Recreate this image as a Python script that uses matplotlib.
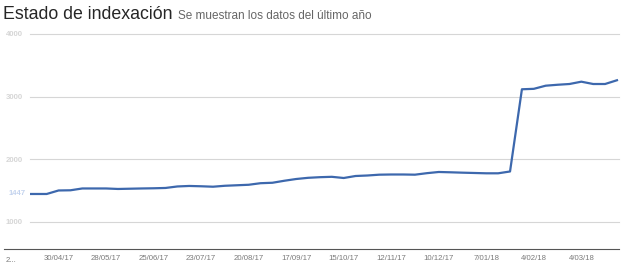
import matplotlib
matplotlib.use("Agg")
import matplotlib.pyplot as plt
import matplotlib.dates as mdates
import pandas as pd

plt.rcParams['font.family'] = ['Liberation Sans', 'DejaVu Sans']

# semanas (domingos), la primera queda recortada por el borde izquierdo
fechas = pd.date_range("2017-04-09", periods=51, freq="7D")
indexadas = [1447, 1447, 1447, 1503, 1506, 1535, 1535, 1535, 1527, 1531,
             1535, 1538, 1543, 1567, 1575, 1570, 1563, 1578, 1586, 1594,
             1619, 1626, 1658, 1686, 1705, 1715, 1721, 1702, 1734, 1742,
             1755, 1758, 1758, 1755, 1779, 1798, 1793, 1787, 1782, 1777,
             1777, 1806, 3118, 3125, 3175, 3190, 3202, 3239, 3202, 3202,
             3262]

ticks_x = ["2017-04-30", "2017-05-28", "2017-06-25", "2017-07-23",
           "2017-08-20", "2017-09-17", "2017-10-15", "2017-11-12",
           "2017-12-10", "2018-01-07", "2018-02-04", "2018-03-04"]
etiquetas_x = ["30/04/17", "28/05/17", "25/06/17", "23/07/17", "20/08/17",
               "17/09/17", "15/10/17", "12/11/17", "10/12/17", "7/01/18",
               "4/02/18", "4/03/18"]
primer_tick = "2017-04-02"
niveles_y = [1000, 2000, 3000, 4000]
etiquetas_y = ["1000", "2000", "3000", "4000"]

W, H = 625, 267
fig = plt.figure(figsize=(W / 100, H / 100), dpi=100)
ax = fig.add_axes([30 / W, 1 - 249 / H, (619 - 30) / W, (249 - 34) / H])

inicio = pd.Timestamp("2017-04-16") - pd.Timedelta(days=2.83)
fin = pd.Timestamp("2018-03-25") + pd.Timedelta(days=1.2)
ax.set_xlim(inicio, fin)
ax.set_ylim(569, 4000)

for v in niveles_y:
    ax.axhline(v, color="#d6d6d6", lw=0.8, zorder=1, clip_on=False)

ax.plot(fechas, indexadas, color="#3d68ad", lw=1.6, zorder=3,
        solid_joinstyle="round")

for s in ["top", "right", "left"]:
    ax.spines[s].set_visible(False)
ax.spines["bottom"].set_color("#555555")
ax.spines["bottom"].set_linewidth(0.8)
ax.spines["bottom"].set_bounds(mdates.date2num(pd.Timestamp("2017-03-29")),
                               mdates.date2num(fin))

ax.set_xticks(pd.to_datetime(ticks_x))
ax.set_xticklabels(etiquetas_x)
ax.tick_params(axis="x", length=0, pad=4, labelsize=5.6, labelcolor="#7a7a7a")
ax.text(pd.Timestamp(primer_tick), -0.035, "2...", transform=ax.get_xaxis_transform(),
        ha="center", va="top", fontsize=5.6, color="#7a7a7a", clip_on=False)

ax.set_yticks(niveles_y)
ax.set_yticklabels(etiquetas_y)
ax.tick_params(axis="y", length=0, pad=5, labelsize=5.6, labelcolor="#d6d6d6")
for lab in ax.get_yticklabels():
    lab.set_fontweight("bold")
ax.text(-0.008, indexadas[0], str(indexadas[0]), transform=ax.get_yaxis_transform(),
        ha="right", va="center", fontsize=5.6, fontweight="bold",
        color="#c3d3ee", clip_on=False)

fig.text(3 / W, 1 - 19 / H, "Estado de indexación", fontsize=12.8,
         color="#262626", va="baseline", ha="left")
fig.text(178 / W, 1 - 19 / H, "Se muestran los datos del último año", fontsize=8.5,
         color="#666666", va="baseline", ha="left")

fig.savefig("out.png", dpi=100)
